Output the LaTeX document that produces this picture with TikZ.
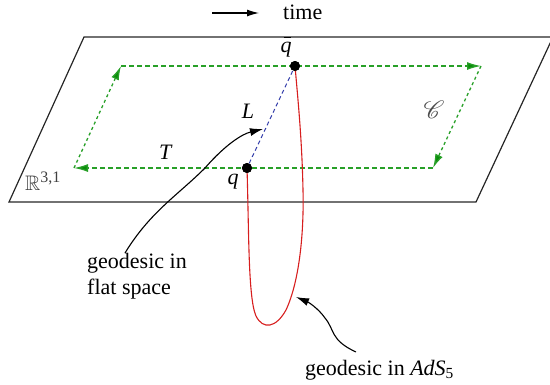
\documentclass[tikz,border=0pt]{standalone}
\usepackage{amssymb}
\usepackage{mathrsfs}
\usepackage{fontspec}
\setmainfont{Liberation Serif}
\usetikzlibrary{arrows.meta}
\definecolor{grn}{RGB}{40,160,40}
\definecolor{dgrn}{RGB}{10,140,10}
\definecolor{rd}{RGB}{215,30,30}
\definecolor{bl}{RGB}{50,60,170}
\tikzset{
  plane/.style={line width=1.2pt, draw=black!85},
  gside/.style={grn, line width=1.3pt, dash pattern=on 3pt off 3pt, -{Latex[length=14pt,width=8pt,fill=dgrn]}},
  gtop/.style={grn, line width=1.3pt, dash pattern=on 5pt off 3pt, -{Latex[length=14pt,width=8pt,fill=dgrn]}},
  pt/.style={circle, fill=black, inner sep=0pt, minimum size=10pt},
  lbl/.style={font=\fontsize{22}{26}\selectfont, inner sep=1pt},
  callout/.style={line width=1.1pt, -{Latex[length=13pt,width=8pt]}},
}
\begin{document}
\begin{tikzpicture}[x=1pt,y=-1pt]
\useasboundingbox (0,0) rectangle (550,384);
% plane
\coordinate (P1) at (9,202);
\coordinate (P2) at (84,37);
\coordinate (P3) at (553,37);
\coordinate (P4) at (476,202);
\draw[plane] (P1) -- (P2) -- (P3) -- (P4) -- cycle;
% green loop
\coordinate (G1) at (74,168);
\coordinate (G2) at (121,66);
\coordinate (G3) at (481,66);
\coordinate (G4) at (433,168);
\draw[gside] (G1) -- (G2);
\draw[gtop] (G2) -- (G3);
\draw[gside] (G3) -- (G4);
\draw[gtop] (G4) -- (G1);
% points
\node[pt] (qb) at (295,66) {};
\node[pt] (q) at (247,168) {};
\draw[bl, line width=1pt, dash pattern=on 4pt off 3pt] (q) -- (qb);
\coordinate (Lmid) at (263,129);
% red geodesic
\draw[rd, line width=1.1pt] (q.center) .. controls (249,230) and (248,298) .. (256,316)
  .. controls (263,330) and (276,328) .. (286,310)
  .. controls (300,280) and (304,230) .. (303,190)
  .. controls (302,140) and (298,100) .. (qb.center);
\node[pt] at (qb) {};
\node[pt] at (q) {};
% labels
\node[lbl] (lqb) at (286,47) {\textit{q}\llap{\rule[14pt]{7pt}{1.1pt}\hspace{1pt}}};
\node[lbl] (lq) at (233,182) {\textit{q}};
\node[lbl] (lL) at (248,111) {\textit{L}};
\node[lbl] (lT) at (166,152) {\textit{T}};
\node[inner sep=1pt, text=black!70] (lC) at (434,110) {\scalebox{2.5}{$\mathscr{C}$}};
\node[inner sep=1pt, text=black!75, anchor=south west] (lR) at (24,192) {\scalebox{2.1}{$\mathbb{R}$}\raisebox{8pt}{\fontsize{16}{18}\selectfont 3,1}};
% time arrow
\coordinate (t1) at (212,13);
\coordinate (t2) at (259,13);
\draw[line width=1.1pt, -{Latex[length=12pt,width=7pt]}] (t1) -- (t2);
\node[lbl, anchor=west] (ltime) at (282,12) {time};
% callouts
\node[lbl, align=left, anchor=north west] (gf) at (86,252) {geodesic in\\flat space};
\draw[callout] (125,253) .. controls (150,212) and (178,195) .. (205,168)
  .. controls (225,145) and (242,134) .. (Lmid);
\coordinate (Rmid) at (296,297);
\node[lbl, anchor=west] (ga) at (304,370) {geodesic in \textit{AdS}\textsubscript{5}};
\draw[callout] (356,352) .. controls (330,340) and (335,330) .. (325,318)
  .. controls (318,308) and (308,302) .. (Rmid);
\end{tikzpicture}
\end{document}
